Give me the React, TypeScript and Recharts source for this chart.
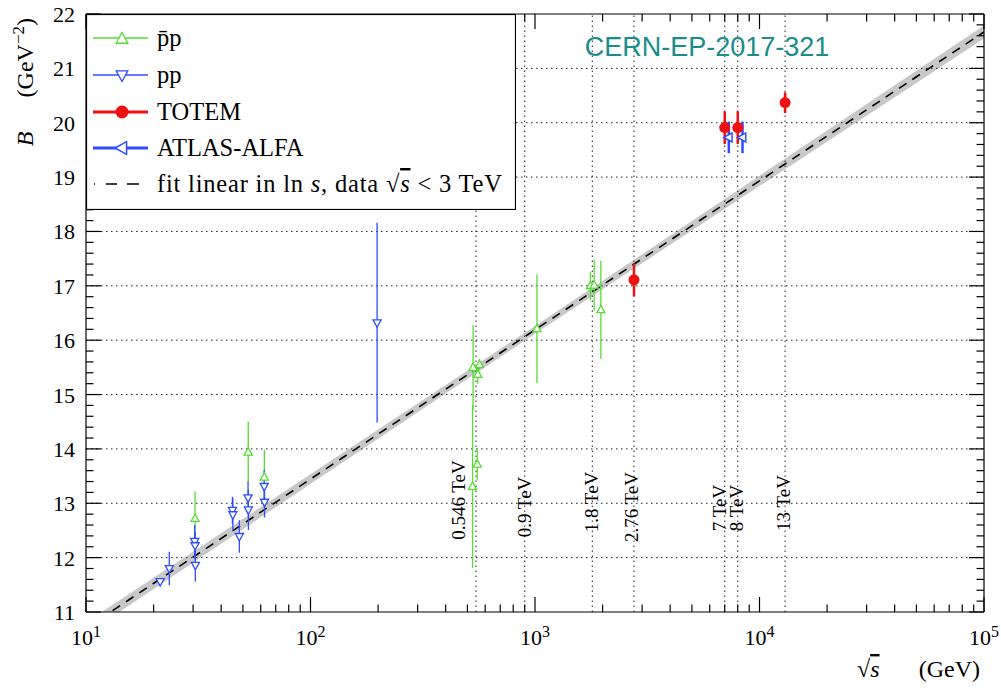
import React from "react";
import {
  Area,
  ComposedChart,
  ErrorBar,
  Legend,
  Line,
  ReferenceLine,
  Scatter,
  XAxis,
  YAxis,
} from "recharts";

const serif = "'Liberation Serif', 'Times New Roman', serif";
const GREEN = "#55dd33";
const BLUE = "#2f4cff";
const RED = "#ee1111";

// pbar-p measurements (sqrt(s) in GeV, slope B in GeV^-2)
const pbarPEnergy = [30.6, 52.8, 62.3, 527, 530, 553, 556, 566, 1020, 1765, 1835, 1965];
const pbarPSlope = [12.72, 13.94, 13.48, 13.31, 15.5, 13.72, 15.37, 15.55, 16.21, 17.0, 17.01, 16.56];
const pbarPError = [0.5, 0.56, 0.5, 1.5, 0.78, 0.3, 0.17, 0.1, 1.0, 0.26, 0.47, 0.9];

// pp measurements below the LHC
const ppEnergy = [21.4, 23.5, 30.5, 30.6, 30.7, 44.9, 45.1, 48.2, 52.7, 52.9, 62.2, 62.4, 198];
const ppSlope = [11.56, 11.8, 12.3, 12.22, 11.86, 12.87, 12.79, 12.39, 13.1, 12.88, 13.31, 13.02, 16.32];
const ppError = [0.05, 0.31, 0.3, 0.25, 0.3, 0.25, 0.3, 0.3, 0.3, 0.37, 0.3, 0.28, 1.84];

const totemEnergy = [2760, 7000, 8000, 13000];
const totemSlope = [17.11, 19.91, 19.91, 20.37];
const totemError = [0.3, 0.3, 0.3, 0.19];

const atlasEnergy = [7300, 8400];
const atlasSlope = [19.73, 19.73];
const atlasError = [0.29, 0.29];

// fit linear in ln s and its uncertainty band
const fitEnergy = [10, 1000, 100000];
const fitSlope = [10.7, 16.19, 21.67];
const fitBandLow = [10.59, 16.12, 21.55];
const fitBandHigh = [10.81, 16.26, 21.79];

// collider energies marked with vertical lines
const energyLines = [546, 900, 1800, 2760, 7000, 8000, 13000];
const energyLabels = ["0.546 TeV", "0.9 TeV", "1.8 TeV", "2.76 TeV", "7 TeV", "8 TeV", "13 TeV"];
const energyLabelDx = [-11, 6, 5.5, 4.5, 1, 5.5, 5];
const energyLabelDy = [486, 493, 488, 493, 494, 494, 489];

const gridB = [12, 13, 14, 15, 16, 17, 18, 19, 20, 21];

const xTicks: number[] = [];
for (const d of [10, 100, 1000, 10000]) for (let m = 1; m < 10; m++) xTicks.push(m * d);
xTicks.push(100000);
const yTicks = Array.from({ length: 56 }, (_, i) => Math.round((11 + i * 0.2) * 10) / 10);

const pbarPData = pbarPEnergy.map((x, i) => ({ x, B: pbarPSlope[i], err: pbarPError[i] }));
const ppData = ppEnergy.map((x, i) => ({ x, B: ppSlope[i], err: ppError[i] }));
const totemData = totemEnergy.map((x, i) => ({ x, B: totemSlope[i], err: totemError[i] }));
const atlasData = atlasEnergy.map((x, i) => ({ x, B: atlasSlope[i], err: atlasError[i] }));
const fitData = fitEnergy.map((x, i) => ({ x, B: fitSlope[i] }));
const bandData = fitEnergy.map((x, i) => ({ x, band: [fitBandLow[i], fitBandHigh[i]] }));

const isDecade = (v: number) => {
  const e = Math.round(Math.log10(v));
  return Math.abs(v / 10 ** e - 1) < 1e-6;
};
const isInt = (v: number) => Math.abs(v - Math.round(v)) < 1e-6;

function BottomTick({ x, y, payload }: any) {
  const v = payload.value;
  const major = isDecade(v);
  return (
    <g>
      <line x1={x} x2={x} y1={y} y2={y - (major ? 15 : 7.5)} stroke="#000" strokeWidth={1.2} />
      {major && (
        <text x={x} y={y + 33} textAnchor="middle" fontFamily={serif} fontSize={22} fill="#000">
          10
          <tspan dy={-8} fontSize={16}>
            {Math.round(Math.log10(v))}
          </tspan>
        </text>
      )}
    </g>
  );
}

function TopTick({ x, y, payload }: any) {
  const major = isDecade(payload.value);
  return <line x1={x} x2={x} y1={y} y2={y + (major ? 15 : 7.5)} stroke="#000" strokeWidth={1.2} />;
}

function LeftTick({ x, y, payload }: any) {
  const major = isInt(payload.value);
  return (
    <g>
      <line x1={x} x2={x + (major ? 15 : 7.5)} y1={y} y2={y} stroke="#000" strokeWidth={1.2} />
      {major && (
        <text x={x - 11} y={y + 8} textAnchor="end" fontFamily={serif} fontSize={22} fill="#000">
          {Math.round(payload.value)}
        </text>
      )}
    </g>
  );
}

function RightTick({ x, y, payload }: any) {
  const major = isInt(payload.value);
  return <line x1={x} x2={x - (major ? 15 : 7.5)} y1={y} y2={y} stroke="#000" strokeWidth={1.2} />;
}

function YTitle({ viewBox }: any) {
  const x = (viewBox?.x ?? 85) + (viewBox?.width ?? 1) - 53;
  const top = viewBox?.y ?? 14;
  return (
    <g fontFamily={serif} fontSize={24} fill="#000">
      <text x={x} y={top + 125} transform={`rotate(-90 ${x} ${top + 125})`} textAnchor="middle" fontStyle="italic">
        B
      </text>
      <text x={x} y={top + 4} transform={`rotate(-90 ${x} ${top + 4})`} textAnchor="end">
        (GeV
        <tspan dy={-9} fontSize={17}>
          −2
        </tspan>
        <tspan dy={9}>)</tspan>
      </text>
    </g>
  );
}

function XTitle({ viewBox }: any) {
  const right = (viewBox?.x ?? 86) + (viewBox?.width ?? 898);
  const y = (viewBox?.y ?? 612) + 65;
  return (
    <g fontFamily={serif} fontSize={24} fill="#000">
      <text x={right - 127} y={y}>
        √
        <tspan fontStyle="italic" style={{ textDecoration: "overline" }}>
          s
        </tspan>
      </text>
      <text x={right - 4} y={y} textAnchor="end">
        (GeV)
      </text>
    </g>
  );
}

function PaperTag({ viewBox }: any) {
  const x = (viewBox?.x ?? 86) + 621;
  const y = (viewBox?.y ?? 13) + (viewBox?.height ?? 1) + 42;
  return (
    <text x={x} y={y} textAnchor="middle" fontFamily="'Liberation Sans', Arial, sans-serif" fontSize={27} fill="#1a8c8c">
      CERN-EP-2017-321
    </text>
  );
}

function EnergyLabel({ viewBox, text, dx, dy }: any) {
  const x = viewBox.x + dx;
  const y = viewBox.y + dy;
  return (
    <text x={x} y={y} transform={`rotate(-90 ${x} ${y})`} textAnchor="middle" fontFamily={serif} fontSize={19} fill="#000">
      {text}
    </text>
  );
}

const triUp = (cx: number, cy: number, r: number) =>
  `M${cx},${cy - r} L${cx + r * 0.9},${cy + r * 0.65} L${cx - r * 0.9},${cy + r * 0.65} Z`;
const triDown = (cx: number, cy: number, r: number) =>
  `M${cx},${cy + r} L${cx + r * 0.9},${cy - r * 0.65} L${cx - r * 0.9},${cy - r * 0.65} Z`;
const triLeft = (cx: number, cy: number, r: number) =>
  `M${cx - r},${cy} L${cx + r * 0.65},${cy - r * 0.9} L${cx + r * 0.65},${cy + r * 0.9} Z`;

const UpMarker = ({ cx, cy }: any) => <path d={triUp(cx, cy, 4.5)} fill="#fff" stroke={GREEN} strokeWidth={1.3} />;
const DownMarker = ({ cx, cy }: any) => <path d={triDown(cx, cy, 4.5)} fill="#fff" stroke={BLUE} strokeWidth={1.3} />;
const LeftMarker = ({ cx, cy }: any) => <path d={triLeft(cx, cy, 5)} fill="#fff" stroke={BLUE} strokeWidth={1.5} />;
const DotMarker = ({ cx, cy }: any) => <circle cx={cx} cy={cy} r={5.5} fill={RED} />;

function LegendBox() {
  const rows = [24, 61, 98, 134, 170];
  return (
    <svg width={430} height={196} style={{ display: "block", background: "#fff" }}>
      <rect x={0.5} y={0.5} width={429} height={195} fill="#fff" stroke="#000" strokeWidth={1.2} />
      <g fontFamily={serif} fontSize={24.5} fill="#000">
        <line x1={7} x2={62} y1={rows[0]} y2={rows[0]} stroke={GREEN} strokeWidth={1.3} />
        <path d={triUp(36, rows[0] + 1, 6.5)} fill="#fff" stroke={GREEN} strokeWidth={1.3} />
        <text x={71} y={rows[0] + 8}>p̄p</text>

        <line x1={7} x2={62} y1={rows[1]} y2={rows[1]} stroke={BLUE} strokeWidth={1.3} />
        <path d={triDown(36, rows[1], 6.5)} fill="#fff" stroke={BLUE} strokeWidth={1.3} />
        <text x={71} y={rows[1] + 8}>pp</text>

        <line x1={7} x2={62} y1={rows[2]} y2={rows[2]} stroke={RED} strokeWidth={3} />
        <circle cx={36} cy={rows[2]} r={6.5} fill={RED} />
        <text x={71} y={rows[2] + 8}>TOTEM</text>

        <line x1={7} x2={62} y1={rows[3]} y2={rows[3]} stroke={BLUE} strokeWidth={3} />
        <path d={triLeft(36, rows[3], 7)} fill="#fff" stroke={BLUE} strokeWidth={1.5} />
        <text x={71} y={rows[3] + 8}>ATLAS-ALFA</text>

        <line x1={8} x2={56} y1={rows[4]} y2={rows[4]} stroke="#000" strokeWidth={1.5} strokeDasharray="1 11 11 10 11 0" />
        <text x={71} y={rows[4] + 8} letterSpacing={0.8}>
          fit linear in ln <tspan fontStyle="italic">s</tspan>, data √
          <tspan fontStyle="italic" style={{ textDecoration: "overline" }}>s</tspan> &lt; 3 TeV
        </text>
      </g>
    </svg>
  );
}

const axisLine = { stroke: "#000", strokeWidth: 1.2 };

export default function App() {
  return (
    <div style={{ position: "absolute", left: 0, top: 0, width: 1001, height: 688, background: "#fff" }}>
      <ComposedChart width={1001} height={688} margin={{ top: 13, right: 16, bottom: 75, left: 85 }}>
        <XAxis
          xAxisId="b"
          dataKey="x"
          type="number"
          scale="log"
          domain={[10, 100000]}
          allowDataOverflow
          ticks={xTicks}
          interval={0}
          height={1}
          tickSize={0}
          tickMargin={0}
          tickLine={false}
          axisLine={axisLine}
          tick={<BottomTick />}
          label={<XTitle />}
        />
        <XAxis
          xAxisId="t"
          orientation="top"
          dataKey="x"
          type="number"
          scale="log"
          domain={[10, 100000]}
          allowDataOverflow
          ticks={xTicks}
          interval={0}
          height={1}
          tickSize={0}
          tickMargin={0}
          tickLine={false}
          axisLine={axisLine}
          tick={<TopTick />}
          label={<PaperTag />}
        />
        <YAxis
          yAxisId="l"
          dataKey="B"
          type="number"
          domain={[11, 22]}
          allowDataOverflow
          ticks={yTicks}
          interval={0}
          width={1}
          tickSize={0}
          tickMargin={0}
          tickLine={false}
          axisLine={axisLine}
          tick={<LeftTick />}
          label={<YTitle />}
        />
        <YAxis
          yAxisId="r"
          orientation="right"
          dataKey="B"
          type="number"
          domain={[11, 22]}
          allowDataOverflow
          ticks={yTicks}
          interval={0}
          width={1}
          tickSize={0}
          tickMargin={0}
          tickLine={false}
          axisLine={axisLine}
          tick={<RightTick />}
        />

        {gridB.map((b) => (
          <ReferenceLine key={`g${b}`} xAxisId="b" yAxisId="l" y={b} stroke="#222" strokeWidth={1} strokeDasharray="1.5 3.5" />
        ))}
        {energyLines.map((e, i) => (
          <ReferenceLine
            key={`e${e}`}
            xAxisId="b"
            yAxisId="l"
            x={e}
            stroke="#222"
            strokeWidth={1}
            strokeDasharray="1.5 3.5"
            label={<EnergyLabel text={energyLabels[i]} dx={energyLabelDx[i]} dy={energyLabelDy[i]} />}
          />
        ))}

        <Area
          xAxisId="b"
          yAxisId="l"
          data={bandData}
          dataKey="band"
          type="linear"
          stroke="none"
          fill="#c8c8c8"
          fillOpacity={1}
          isAnimationActive={false}
        />
        <Line
          xAxisId="b"
          yAxisId="l"
          data={fitData}
          dataKey="B"
          type="linear"
          stroke="#000"
          strokeWidth={1.6}
          strokeDasharray="9 7"
          dot={false}
          activeDot={false}
          isAnimationActive={false}
        />

        <Scatter xAxisId="b" yAxisId="l" data={pbarPData} dataKey="B" shape={<UpMarker />} isAnimationActive={false}>
          <ErrorBar dataKey="err" direction="y" width={0} stroke={GREEN} strokeWidth={1.3} />
        </Scatter>
        <Scatter xAxisId="b" yAxisId="l" data={ppData} dataKey="B" shape={<DownMarker />} isAnimationActive={false}>
          <ErrorBar dataKey="err" direction="y" width={0} stroke={BLUE} strokeWidth={1.3} />
        </Scatter>
        <Scatter xAxisId="b" yAxisId="l" data={atlasData} dataKey="B" shape={<LeftMarker />} isAnimationActive={false}>
          <ErrorBar dataKey="err" direction="y" width={0} stroke={BLUE} strokeWidth={2.5} />
        </Scatter>
        <Scatter xAxisId="b" yAxisId="l" data={totemData} dataKey="B" shape={<DotMarker />} isAnimationActive={false}>
          <ErrorBar dataKey="err" direction="y" width={0} stroke={RED} strokeWidth={2.5} />
        </Scatter>

        <Legend
          layout="horizontal"
          verticalAlign="middle"
          align="center"
          wrapperStyle={{ top: 14, left: 86, width: 430, height: 196 }}
          content={() => <LegendBox />}
        />
      </ComposedChart>
    </div>
  );
}
